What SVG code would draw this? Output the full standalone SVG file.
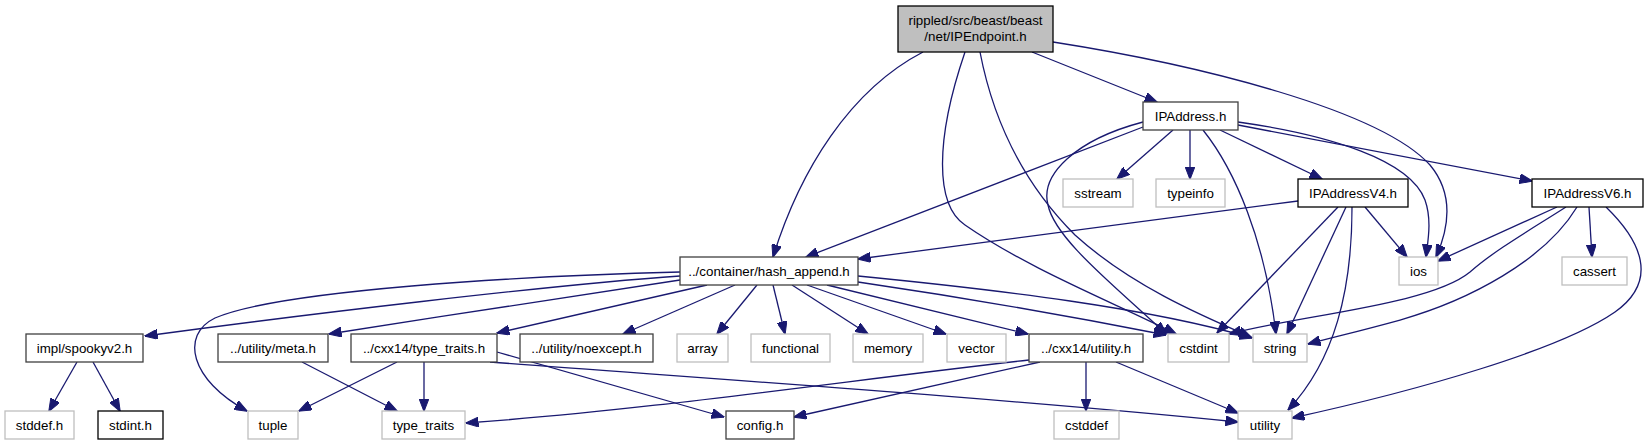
<svg xmlns="http://www.w3.org/2000/svg" width="1650" height="445" viewBox="0 0 1650 445">
<style>
.n rect{stroke-width:1.3}
.d rect{fill:#fff;stroke:#404040}
.b rect{fill:#fff;stroke:#000}
.g rect{fill:#fff;stroke:#bfbfbf}
.m rect{fill:#bfbfbf;stroke:#000}
text{font-family:"Liberation Sans",Arial,sans-serif;font-size:13.33px;text-anchor:middle;fill:#000}
#edges path{fill:none;stroke:#191970;stroke-width:1.3;marker-end:url(#arr)}
</style>
<defs>
<marker id="arr" viewBox="0 0 13 10" refX="12.5" refY="5" markerWidth="13" markerHeight="10" markerUnits="userSpaceOnUse" orient="auto">
<path d="M0,0 L13,5 L0,10 z" fill="#191970" stroke="#191970" stroke-width="1"/>
</marker>
</defs>
<rect width="1650" height="445" fill="#fff"/>
<g id="edges">
<!-- main -->
<path d="M923,52 C850,90 800,170 773,257"/>
<path d="M965,52 C935,140 935,205 965,225 C1030,270 1120,305 1176,334"/>
<path d="M980,52 C995,130 1030,190 1075,235 C1130,285 1200,315 1251,337"/>
<path d="M1032,52 L1157,102"/>
<path d="M1053,42 C1200,65 1380,110 1430,165 C1455,195 1448,230 1436,257"/>
<!-- IPAddress -->
<path d="M1143,127 L806,257"/>
<path d="M1143,122 C1075,140 1040,175 1048,205 C1055,240 1120,290 1166,334"/>
<path d="M1173,130 L1117,179"/>
<path d="M1190,130 L1190,179"/>
<path d="M1203,130 C1235,170 1265,240 1276,334"/>
<path d="M1220,130 L1322,179"/>
<path d="M1238,122 C1330,135 1410,160 1425,200 C1432,220 1428,240 1426,257"/>
<path d="M1238,125 L1532,181"/>
<!-- IPAddressV4 -->
<path d="M1298,201 L858,259"/>
<path d="M1338,207 L1217,333"/>
<path d="M1346,207 L1287,334"/>
<path d="M1352,207 C1352,290 1335,360 1288,410"/>
<path d="M1365,207 L1407,257"/>
<!-- IPAddressV6 -->
<path d="M1557,207 L1438,261"/>
<path d="M1566,207 C1530,230 1495,250 1470,272 C1430,305 1300,315 1229,334"/>
<path d="M1577,207 C1545,260 1470,300 1400,320 C1360,331 1330,338 1308,344"/>
<path d="M1589,207 L1592,257"/>
<path d="M1606,207 C1640,240 1660,280 1615,312 C1560,350 1420,390 1292,418"/>
<!-- hash_append -->
<path d="M680,272 C520,276 280,290 215,318 C180,335 190,380 247,411"/>
<path d="M680,276 C550,285 300,315 145,336"/>
<path d="M680,280 C600,292 450,315 329,334"/>
<path d="M707,285 L497,333"/>
<path d="M735,285 L623,334"/>
<path d="M757,285 L717,334"/>
<path d="M773,285 L785,334"/>
<path d="M792,285 L868,334"/>
<path d="M807,285 L946,334"/>
<path d="M827,285 L1028,334"/>
<path d="M858,282 C960,297 1080,318 1166,335"/>
<path d="M858,276 C1000,290 1150,308 1252,338"/>
<!-- spookyv2 -->
<path d="M77,362 L49,411"/>
<path d="M93,362 L120,411"/>
<!-- meta -->
<path d="M302,362 L397,411"/>
<!-- type_traits.h -->
<path d="M397,362 L299,411"/>
<path d="M424,362 L424,411"/>
<path d="M497,352 L724,417"/>
<path d="M490,362 C700,378 1000,398 1238,422"/>
<!-- cxx14/utility.h -->
<path d="M1029,360 C850,380 650,410 466,423"/>
<path d="M1040,362 L794,417"/>
<path d="M1086,362 L1086,411"/>
<path d="M1116,362 L1238,413"/>
</g>
<g id="n_main" class="n m"><rect x="898" y="6" width="155" height="46"/><text x="975.5" y="25">rippled/src/beast/beast</text><text x="975.5" y="41">/net/IPEndpoint.h</text></g>
<g id="n_ipaddress" class="n d"><rect x="1143" y="102" width="95" height="28"/><text x="1190.5" y="120.8">IPAddress.h</text></g>
<g id="n_sstream" class="n g"><rect x="1063" y="179" width="70" height="28"/><text x="1098" y="197.8">sstream</text></g>
<g id="n_typeinfo" class="n g"><rect x="1156" y="179" width="69" height="28"/><text x="1190.5" y="197.8">typeinfo</text></g>
<g id="n_ipv4" class="n b"><rect x="1298" y="179" width="110" height="28"/><text x="1353" y="197.8">IPAddressV4.h</text></g>
<g id="n_ipv6" class="n b"><rect x="1532" y="179" width="111" height="28"/><text x="1587.5" y="197.8">IPAddressV6.h</text></g>
<g id="n_hash" class="n d"><rect x="680" y="257" width="178" height="28"/><text x="769" y="275.8">../container/hash_append.h</text></g>
<g id="n_ios" class="n g"><rect x="1399" y="257" width="39" height="28"/><text x="1418.5" y="275.8">ios</text></g>
<g id="n_cassert" class="n g"><rect x="1562" y="257" width="65" height="28"/><text x="1594.5" y="275.8">cassert</text></g>
<g id="n_spooky" class="n d"><rect x="26" y="334" width="117" height="28"/><text x="84.5" y="352.8">impl/spookyv2.h</text></g>
<g id="n_meta" class="n d"><rect x="218" y="334" width="110" height="28"/><text x="273" y="352.8">../utility/meta.h</text></g>
<g id="n_cxxtt" class="n d"><rect x="351" y="334" width="146" height="28"/><text x="424" y="352.8">../cxx14/type_traits.h</text></g>
<g id="n_noexcept" class="n d"><rect x="520" y="334" width="133" height="28"/><text x="586.5" y="352.8">../utility/noexcept.h</text></g>
<g id="n_array" class="n g"><rect x="677" y="334" width="51" height="28"/><text x="702.5" y="352.8">array</text></g>
<g id="n_functional" class="n g"><rect x="751" y="334" width="79" height="28"/><text x="790.5" y="352.8">functional</text></g>
<g id="n_memory" class="n g"><rect x="853" y="334" width="70" height="28"/><text x="888" y="352.8">memory</text></g>
<g id="n_vector" class="n g"><rect x="947" y="334" width="59" height="28"/><text x="976.5" y="352.8">vector</text></g>
<g id="n_cxxutil" class="n d"><rect x="1029" y="334" width="114" height="28"/><text x="1086" y="352.8">../cxx14/utility.h</text></g>
<g id="n_cstdint" class="n g"><rect x="1168" y="334" width="61" height="28"/><text x="1198.5" y="352.8">cstdint</text></g>
<g id="n_string" class="n g"><rect x="1253" y="334" width="54" height="28"/><text x="1280" y="352.8">string</text></g>
<g id="n_stddef" class="n g"><rect x="5" y="411" width="69" height="28"/><text x="39.5" y="429.8">stddef.h</text></g>
<g id="n_stdint" class="n b"><rect x="98" y="411" width="65" height="28"/><text x="130.5" y="429.8">stdint.h</text></g>
<g id="n_tuple" class="n g"><rect x="248" y="411" width="50" height="28"/><text x="273" y="429.8">tuple</text></g>
<g id="n_type_traits" class="n g"><rect x="382" y="411" width="83" height="28"/><text x="423.5" y="429.8">type_traits</text></g>
<g id="n_config" class="n d"><rect x="726" y="411" width="68" height="28"/><text x="760" y="429.8">config.h</text></g>
<g id="n_cstddef" class="n g"><rect x="1054" y="411" width="65" height="28"/><text x="1086.5" y="429.8">cstddef</text></g>
<g id="n_utility" class="n g"><rect x="1238" y="411" width="54" height="28"/><text x="1265" y="429.8">utility</text></g>
</svg>
